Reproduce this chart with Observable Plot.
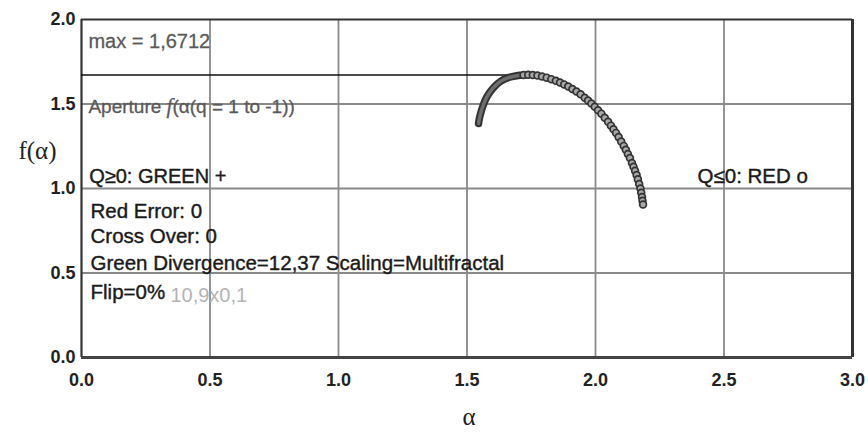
<!DOCTYPE html>
<html>
<head>
<meta charset="utf-8">
<script src="https://cdn.jsdelivr.net/npm/d3@7"></script>
<script src="https://cdn.jsdelivr.net/npm/@observablehq/plot@0.6"></script>
<style>
  html, body { margin: 0; padding: 0; background: #fff; }
  #chart { width: 868px; height: 432px; }
</style>
</head>
<body>
<div id="chart"></div>
<script>
// ---- data ----
const xTicks = [0, 0.5, 1, 1.5, 2, 2.5, 3];
const yTicks = [0, 0.5, 1, 1.5, 2];
const gridX = [0.5, 1, 1.5, 2, 2.5];
const gridY = [0.5, 1, 1.5];

// left (q >= 0) branch, drawn solid
const leftAlpha = [1.545, 1.549, 1.556, 1.564, 1.576, 1.591, 1.609, 1.630, 1.654, 1.680, 1.705, 1.725];
const leftF     = [1.385, 1.420, 1.460, 1.497, 1.538, 1.574, 1.606, 1.633, 1.652, 1.663, 1.670, 1.672];

// right (q <= 0) branch, drawn with circle markers
const rightAlpha = [1.720, 1.738, 1.756, 1.774, 1.792, 1.810, 1.828, 1.846,
                    1.862, 1.878, 1.894, 1.910, 1.926, 1.942, 1.958,
                    1.971, 1.984, 1.997, 2.010, 2.023, 2.036, 2.049,
                    2.060, 2.070, 2.080, 2.090, 2.100, 2.110,
                    2.118, 2.126, 2.134, 2.142,
                    2.148, 2.154, 2.160,
                    2.165, 2.170, 2.175,
                    2.178, 2.181, 2.183, 2.185];
const rightF     = [1.672, 1.673, 1.672, 1.668, 1.663, 1.656, 1.647, 1.637,
                    1.627, 1.616, 1.603, 1.589, 1.574, 1.557, 1.537,
                    1.521, 1.503, 1.484, 1.463, 1.443, 1.419, 1.395,
                    1.372, 1.351, 1.329, 1.304, 1.278, 1.252,
                    1.229, 1.204, 1.180, 1.151,
                    1.128, 1.105, 1.080,
                    1.054, 1.027, 1.000,
                    0.975, 0.950, 0.927, 0.905];

const maxF = 1.6712;
const maxLineEnd = 1.70;

const noteMax = "max = 1,6712";
const noteAperture = "Aperture f(α(q = 1 to -1))";
const noteGreen = "Q≥0: GREEN +";
const noteRed = "Q≤0: RED o";
const noteLines = ["Red Error: 0", "Cross Over: 0", "Green Divergence=12,37 Scaling=Multifractal", "Flip=0%"];
const noteFaint = "10,9x0,1";
const xLabel = "α";
const yLabel = "f(α)";

// ---- build ----
const left = leftAlpha.map((a, i) => ({a, f: leftF[i]}));
const right = rightAlpha.map((a, i) => ({a, f: rightF[i]}));
const maxRow = [{f: maxF, x1: 0, x2: maxLineEnd}];

const sans = "'Liberation Sans', Arial, sans-serif";
const serif = "'Liberation Serif', 'Times New Roman', serif";
const noteY = [0.828, 0.675, 0.515, 0.349];

const chart = Plot.plot({
  width: 868,
  height: 432,
  marginLeft: 81,
  marginRight: 16,
  marginTop: 19,
  marginBottom: 75,
  style: {fontFamily: sans, background: "#fff", overflow: "visible"},
  x: {domain: [0, 3]},
  y: {domain: [0, 2]},
  marks: [
    Plot.ruleX(gridX, {stroke: "#8a8a8a", strokeWidth: 1.8}),
    Plot.ruleY(gridY, {stroke: "#8a8a8a", strokeWidth: 1.8}),
    Plot.ruleX([0], {stroke: "#333", strokeWidth: 2.2}),
    Plot.ruleX([3], {stroke: "#333", strokeWidth: 3}),
    Plot.ruleY([2], {stroke: "#333", strokeWidth: 2.2}),
    Plot.ruleY([0], {stroke: "#444", strokeWidth: 3}),
    Plot.ruleY(maxRow, {y: "f", x1: "x1", x2: "x2", stroke: "#111", strokeWidth: 1.5}),
    Plot.line(left, {x: "a", y: "f", curve: "natural", stroke: "#333", strokeWidth: 7.5, strokeLinecap: "round"}),
    Plot.line(left, {x: "a", y: "f", curve: "natural", stroke: "#6e6e6e", strokeWidth: 3.5, strokeLinecap: "round"}),
    Plot.dot(right, {x: "a", y: "f", r: 3.4, stroke: "#333", strokeWidth: 1.7, fill: "#a8a8a8"}),
    Plot.axisX({ticks: xTicks, tickFormat: d3.format(".1f"), tickSize: 0, tickPadding: 16, label: null,
      fontSize: 18, fontWeight: "bold", fill: "#222", fontFamily: sans}),
    Plot.axisY({ticks: yTicks, tickFormat: d3.format(".1f"), tickSize: 0, tickPadding: 6, label: null,
      fontSize: 18, fontWeight: "bold", fill: "#222", fontFamily: sans}),
    Plot.text([noteMax], {x: 0.027, y: 1.834, text: d => d, textAnchor: "start", lineAnchor: "bottom",
      fontSize: 20, fill: "#5a5a5a", fontFamily: sans, stroke: "#5a5a5a", strokeWidth: 0.3}),
    Plot.text([noteAperture], {x: 0.027, y: 1.444, text: d => d, textAnchor: "start", lineAnchor: "bottom",
      fontSize: 19, fill: "#5a5a5a", fontFamily: sans, stroke: "#5a5a5a", strokeWidth: 0.3, className: "aperture"}),
    Plot.text([noteGreen], {x: 0.030, y: 1.030, text: d => d, textAnchor: "start", lineAnchor: "bottom",
      fontSize: 20, fill: "#1a1a1a", fontFamily: sans, stroke: "#1a1a1a", strokeWidth: 0.4}),
    Plot.text([noteRed], {x: 2.397, y: 1.030, text: d => d, textAnchor: "start", lineAnchor: "bottom",
      fontSize: 20.5, fill: "#1a1a1a", fontFamily: sans, stroke: "#1a1a1a", strokeWidth: 0.4}),
    Plot.text(noteLines, {x: 0.035, y: (d, i) => noteY[i], text: d => d, textAnchor: "start", lineAnchor: "bottom",
      fontSize: 20.5, fill: "#1a1a1a", fontFamily: sans, stroke: "#1a1a1a", strokeWidth: 0.4}),
    Plot.text([noteFaint], {x: 0.346, y: 0.331, text: d => d, textAnchor: "start", lineAnchor: "bottom",
      fontSize: 20, fill: "#b4b4b4", fontFamily: sans}),
    Plot.text([yLabel], {frameAnchor: "left", dx: -44, dy: -30, text: d => d, textAnchor: "middle", lineAnchor: "bottom",
      fontSize: 25, fill: "#222", fontFamily: serif}),
    Plot.text([xLabel], {frameAnchor: "bottom", dx: 2, dy: 67, text: d => d, textAnchor: "middle", lineAnchor: "bottom",
      fontSize: 25, fill: "#222", fontFamily: serif})
  ]
});

// italic f in the aperture note
d3.select(chart).selectAll("g.aperture text").each(function () {
  const t = d3.select(this);
  t.text(null);
  t.append("tspan").text("Aperture ");
  t.append("tspan").attr("font-style", "italic").attr("font-family", serif).attr("font-size", 21).text("f");
  t.append("tspan").text("(α(q = 1 to -1))");
});

document.getElementById("chart").appendChild(chart);
</script>
</body>
</html>
